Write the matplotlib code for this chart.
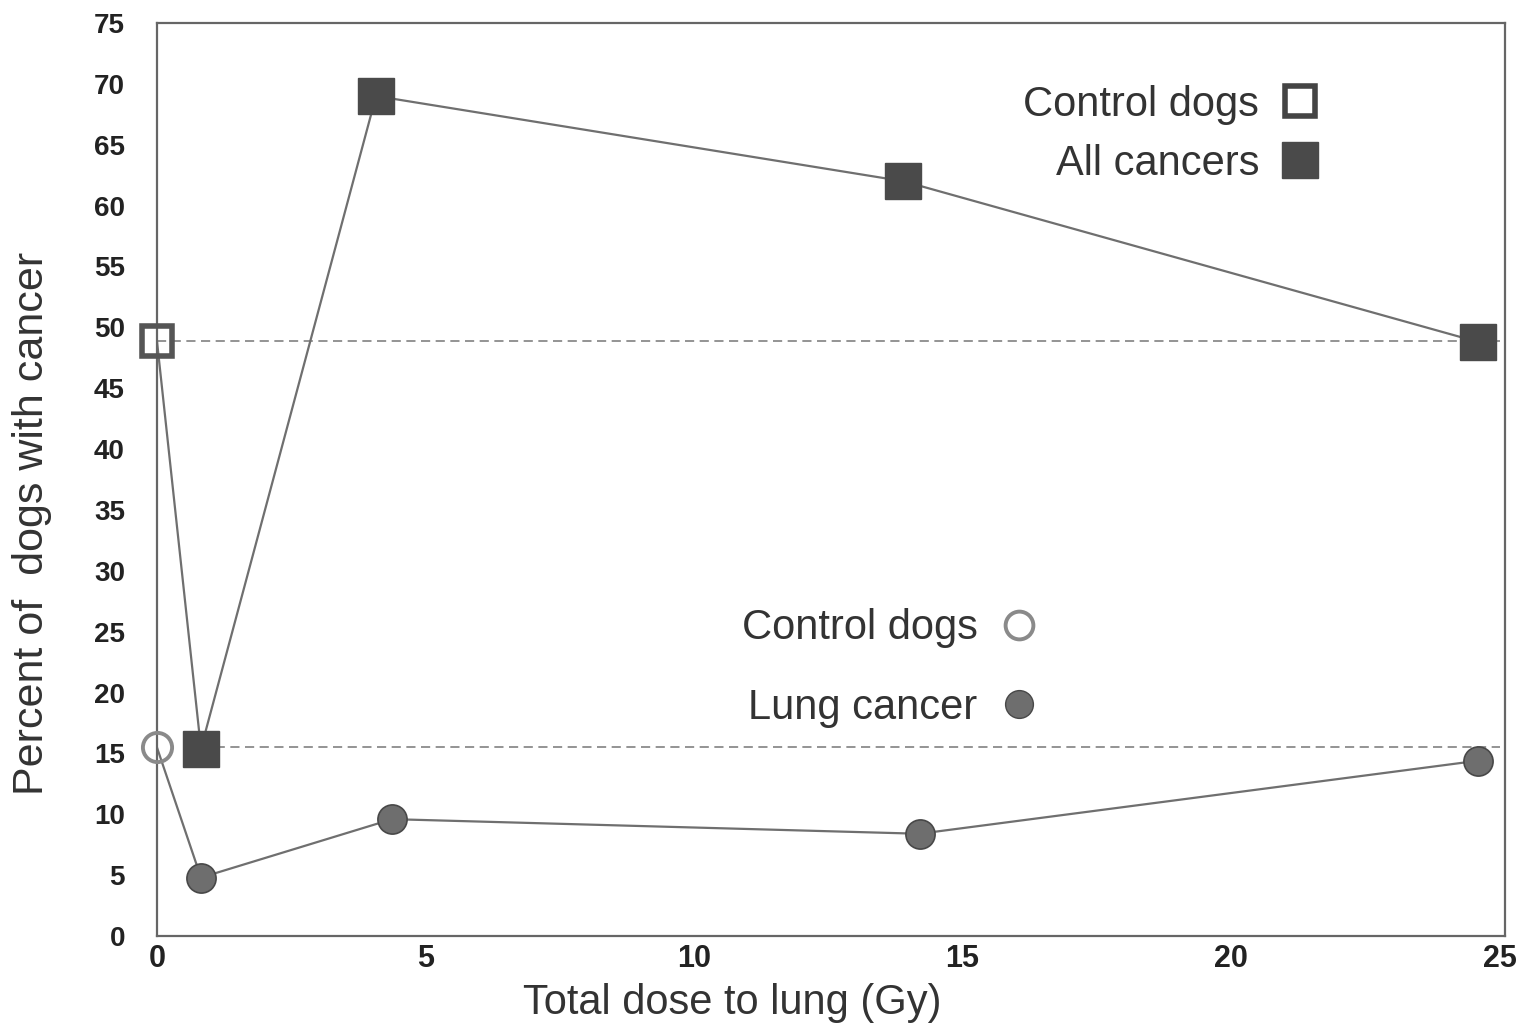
import matplotlib.pyplot as plt
from matplotlib.lines import Line2D

plt.rcParams['font.family'] = ['Liberation Sans', 'DejaVu Sans']

# control value (dose 0) plus exposed groups
control_all = 48.9
control_lung = 15.5

dose_all = [0.82, 4.08, 13.9, 24.6]
all_cancers = [15.4, 69.0, 62.0, 48.8]

dose_lung = [0.82, 4.38, 14.2, 24.6]
lung_cancer = [4.8, 9.6, 8.4, 14.4]

x_ticks = [0, 5, 10, 15, 20, 25]
y_ticks = list(range(0, 80, 5))

sq_color = '#4a4a4a'
circ_color = '#6e6e6e'
line_color = '#6f6f6f'
text_color = '#333333'

fig = plt.figure(figsize=(15.28, 10.26), dpi=100)
ax = fig.add_axes([0.1027, 0.0877, 0.8822, 0.8899])

# reference lines for the control values
ax.hlines(control_all, 0, 25, colors='#777777', linewidth=1.1,
          linestyles=(0, (6, 3.6)), zorder=1)
ax.hlines(control_lung, dose_all[0], 25, colors='#777777', linewidth=1.1,
          linestyles=(0, (6, 3.6)), zorder=1)

# all cancers line, starting from the control point
ax.plot([0] + dose_all, [control_all] + all_cancers, color=line_color,
        linewidth=1.6, zorder=2)
ax.plot(dose_all, all_cancers, ls='none', marker='s', markersize=26,
        markerfacecolor=sq_color, markeredgecolor=sq_color, zorder=4)
ax.plot([0], [control_all], ls='none', marker='s', markersize=21,
        markerfacecolor='none', markeredgecolor='#555555',
        markeredgewidth=4, zorder=4, clip_on=False)

# lung cancer line
ax.plot([0] + dose_lung, [control_lung] + lung_cancer, color=line_color,
        linewidth=1.6, zorder=2)
ax.plot(dose_lung, lung_cancer, ls='none', marker='o', markersize=21,
        markerfacecolor=circ_color, markeredgecolor='#484848',
        markeredgewidth=1.2, zorder=4)
ax.plot([0], [control_lung], ls='none', marker='o', markersize=21,
        markerfacecolor='none', markeredgecolor='#8a8a8a',
        markeredgewidth=2.8, zorder=4, clip_on=False)

ax.set_xlim(0, 25.1)
ax.set_ylim(0, 75)
ax.set_xticks(x_ticks)
ax.set_yticks(y_ticks)
ax.tick_params(axis='both', length=0, colors='#222222')
ax.tick_params(axis='x', pad=6, labelsize=22)
ax.tick_params(axis='y', pad=23, labelsize=20)
for lab in ax.get_xticklabels() + ax.get_yticklabels():
    lab.set_fontweight('bold')

for sp in ax.spines.values():
    sp.set_color('#666666')
    sp.set_linewidth(1.6)

ax.set_xlabel('Total dose to lung (Gy)', fontsize=30, color=text_color)
ax.xaxis.set_label_coords(0.427, -0.052)
ax.set_ylabel('Percent of  dogs with cancer', fontsize=31, color=text_color)
ax.yaxis.set_label_coords(-0.078, 0.452)

# legends with the marker after the text
h1 = [Line2D([], [], ls='none', marker='s', markersize=22,
             markerfacecolor='none', markeredgecolor='#444444', markeredgewidth=4),
      Line2D([], [], ls='none', marker='s', markersize=26,
             markerfacecolor=sq_color, markeredgecolor=sq_color)]
leg1 = ax.legend(h1, ['Control dogs', 'All cancers'], loc='upper right',
                 bbox_to_anchor=(0.861, 0.932), frameon=False, markerfirst=False,
                 fontsize=30, labelspacing=0.45, handlelength=0.85,
                 handletextpad=0.55, borderpad=0, borderaxespad=0,
                 labelcolor=text_color)
ax.add_artist(leg1)

h2 = [Line2D([], [], ls='none', marker='o', markersize=20,
             markerfacecolor='none', markeredgecolor='#8a8a8a', markeredgewidth=2.8),
      Line2D([], [], ls='none', marker='o', markersize=20,
             markerfacecolor=circ_color, markeredgecolor='#484848')]
ax.legend(h2, ['Control dogs', 'Lung cancer'], loc='upper right',
          bbox_to_anchor=(0.652, 0.359), frameon=False, markerfirst=False,
          fontsize=30, labelspacing=0.95, handlelength=0.8,
          handletextpad=0.6, borderpad=0, borderaxespad=0,
          labelcolor=text_color)

fig.savefig('out.png', dpi=100)
